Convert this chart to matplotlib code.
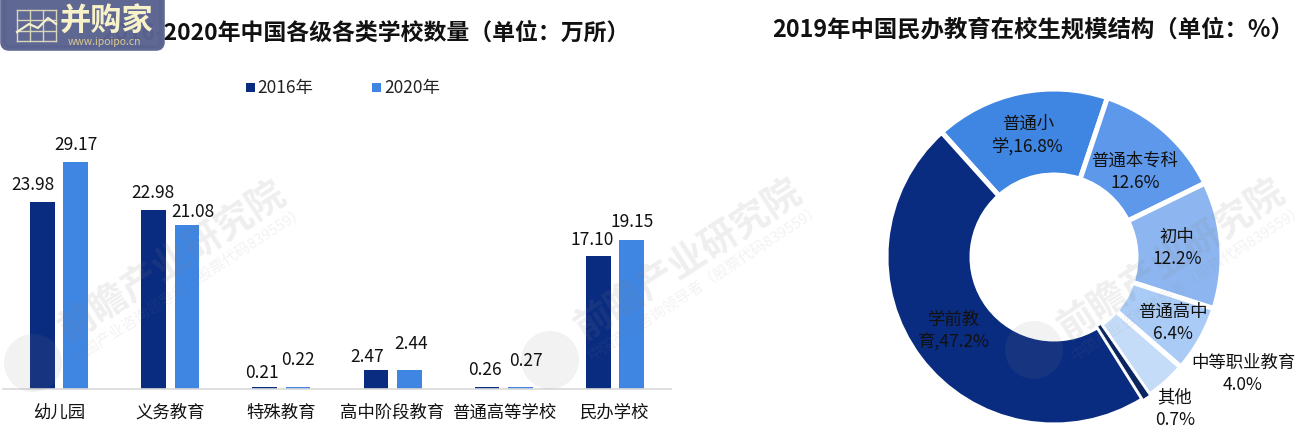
import numpy as np
import matplotlib
matplotlib.use('Agg')
import matplotlib.pyplot as plt
from matplotlib.patches import FancyBboxPatch, Rectangle, Circle

plt.rcParams['font.family'] = ['Noto Sans CJK SC', 'DejaVu Sans']

W, H = 1311, 443

# bar chart data (万所)
categories = ['幼儿园', '义务教育', '特殊教育', '高中阶段教育', '普通高等学校', '民办学校']
values_2016 = [23.98, 22.98, 0.21, 2.47, 0.26, 17.10]
values_2020 = [29.17, 21.08, 0.22, 2.44, 0.27, 19.15]
series_names = ['2016年', '2020年']

# donut data (%), clockwise from the top-left boundary
pie_labels = ['普通小\n学,16.8%', '普通本专科\n12.6%', '初中\n12.2%', '普通高中\n6.4%',
              '中等职业教育\n4.0%', '其他\n0.7%', '学前教\n育,47.2%']
pie_values = [16.8, 12.6, 12.2, 6.4, 4.0, 0.7, 47.2]
pie_colors = ['#3F85E2', '#5E98EA', '#8DB6F0', '#A9CBF6', '#C5DCF9', '#0A2560', '#0A2C80']

DARK = '#0A2C80'
LIGHT = '#3F85E2'
LOGO = '#5A6290'
TXT = '#111111'


def px_axes(fig, left, top, right, bottom):
    return fig.add_axes([left / W, 1 - bottom / H, (right - left) / W, (bottom - top) / H])


def overlay(fig, z):
    # full-figure axes in pixel coordinates
    a = fig.add_axes([0, 0, 1, 1], zorder=z)
    a.set_xlim(0, W)
    a.set_ylim(H, 0)
    a.axis('off')
    return a


fig = plt.figure(figsize=(W / 100, H / 100), dpi=100)

# bars
ax = px_axes(fig, 3, 100, 671, 389)
ax.set_zorder(1)
x = np.arange(len(categories))
bw = 24.5 / 111.2
off = 16.7 / 111.2
ax.bar(x - off, values_2016, bw, color=DARK)
ax.bar(x + off, values_2020, bw, color=LIGHT)
ax.set_xlim(-0.504, 5.504)
ax.set_ylim(0, 289 / 7.78)
ax.set_xticks(x)
ax.set_xticklabels(categories, fontsize=12.5, color=TXT)
ax.tick_params(axis='x', length=0, pad=10.5)
ax.set_yticks([])
for s in ['top', 'left', 'right']:
    ax.spines[s].set_visible(False)
ax.spines['bottom'].set_color('#D9D9D9')
ax.spines['bottom'].set_linewidth(1.2)

# donut
R = 168
pax = px_axes(fig, 1054 - R, 257 - R, 1054 + R, 257 + R)
pax.set_zorder(1)
wedges, _ = pax.pie(pie_values, colors=pie_colors, startangle=90 + 42, counterclock=False, radius=1,
                    wedgeprops=dict(width=1 - 82 / R, edgecolor='white', linewidth=3.6))
pax.set_xlim(-1, 1)
pax.set_ylim(-1, 1)
# thin sliver must stay visible over its neighbours' white edges
wedges[5].set_zorder(5)
wedges[5].set_linewidth(0.6)

# watermark, faint over everything except the text
wm = overlay(fig, 2)
for wx, wy in [(172, 262), (688, 260), (1171, 260)]:
    wm.text(wx, wy, '前瞻产业研究院', fontsize=27, color='#808080', alpha=0.13, rotation=33,
            ha='center', va='center', fontweight='bold')
    wm.text(wx + 17, wy + 22, '中国产业咨询领导者（股票代码839559）', fontsize=10.8, color='#808080',
            alpha=0.1, rotation=33, ha='center', va='center')
for cx, cy in [(33, 363), (550, 360), (1034, 350)]:
    wm.add_patch(Circle((cx, cy), 29, color='#808080', alpha=0.1, lw=0))

# labels
top = overlay(fig, 3)
val_pos_2016 = [(33, 185), (153, 193), (262, 373), (367, 357), (485, 370), (592, 240)]
val_pos_2020 = [(76, 145), (193, 212), (298, 360), (411, 344), (526, 361), (632, 222)]
for vals, pos in [(values_2016, val_pos_2016), (values_2020, val_pos_2020)]:
    for v, (lx, ly) in zip(vals, pos):
        top.text(lx, ly, '%.2f' % v, ha='center', va='center', fontsize=12.5, color=TXT)

top.add_patch(Rectangle((246, 83), 9, 9, color=DARK, lw=0))
top.add_patch(Rectangle((372, 83), 9, 9, color=LIGHT, lw=0))
top.text(257, 88, series_names[0], fontsize=12.5, va='center', color='#222222')
top.text(384, 88, series_names[1], fontsize=12.5, va='center', color='#222222')

top.text(101, 33, '2016-2020年中国各级各类学校数量（单位：万所）', fontsize=16.5,
         fontweight='bold', va='center', color=TXT)
top.text(1033, 29, '2019年中国民办教育在校生规模结构（单位：%）', fontsize=16.8,
         fontweight='bold', va='center', ha='center', color=TXT)

label_pos = [(1028, 135), (1135, 172), (1177, 248), (1173, 323), (1243, 374), (1175, 409), (954, 331)]
for lab, (lx, ly) in zip(pie_labels, label_pos):
    top.text(lx, ly, lab, ha='center', va='center', fontsize=12.5, color=TXT, linespacing=1.32)

# site logo sits on top of the title
logo = overlay(fig, 6)
logo.add_patch(FancyBboxPatch((3, -20), 159, 68, boxstyle='round,pad=0,rounding_size=6',
                              fc=LOGO, ec=LOGO, lw=4, alpha=0.97))
for gx in [17, 30, 43, 56]:
    logo.plot([gx, gx], [10, 41], color='#D9D6B8', lw=1)
for gy in [10, 20, 31, 41]:
    logo.plot([17, 56], [gy, gy], color='#D9D6B8', lw=1)
logo.plot([17, 29, 38, 48, 56], [32, 24, 28, 18, 24], color='#F5F0CF', lw=1.6)
logo.text(106, 22, '并购家', fontsize=22.5, color='#F7F2C8', fontweight='bold', ha='center', va='center')
logo.text(104, 42, 'www.ipoipo.cn', fontsize=7.5, color='#D9C98F', ha='center', va='center')

fig.savefig('out.png', dpi=100)
